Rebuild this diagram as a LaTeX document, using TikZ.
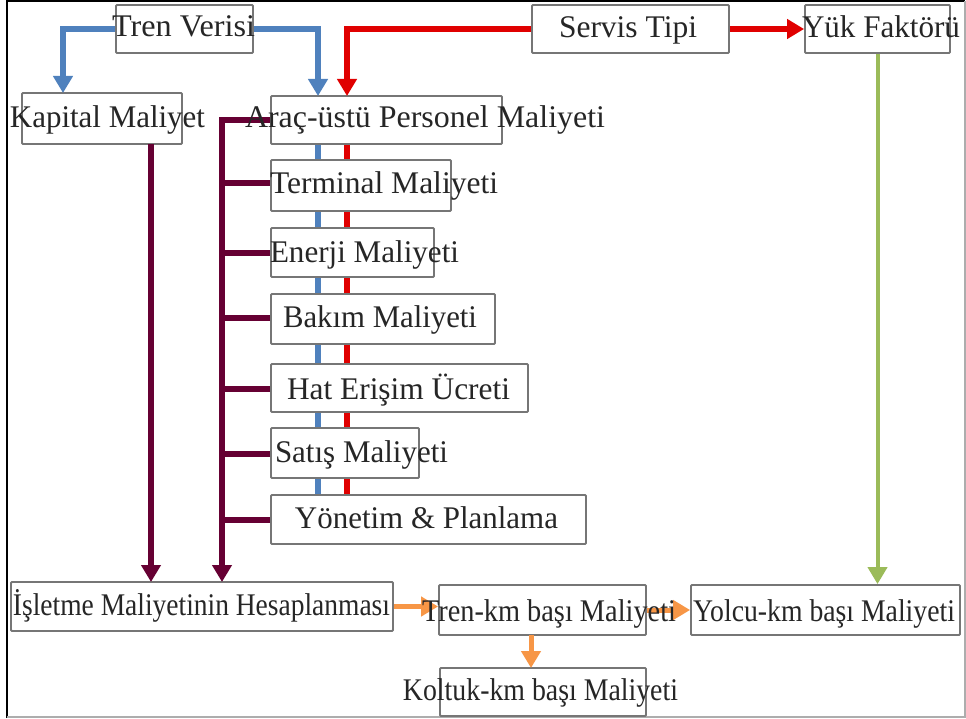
\documentclass[tikz,border=0pt]{standalone}
\usepackage{graphicx}
\usepackage{fontspec}
\setmainfont{Liberation Serif}
\usetikzlibrary{arrows.meta}
\definecolor{cblue}{HTML}{4F81BD}
\definecolor{cred}{HTML}{E00000}
\definecolor{cmaroon}{HTML}{660033}
\definecolor{cgreen}{HTML}{9BBB59}
\definecolor{corange}{HTML}{F79646}
\definecolor{cframe}{HTML}{767676}
\tikzset{
  x=1pt, y=1pt,
  box/.style={draw=cframe, line width=1.8pt, fill=white, inner sep=0pt, rounded corners=1pt},
  label/.style={font=\fontsize{31.5}{34}\selectfont, inner sep=0pt, anchor=base, text=black!85},
  tip/.style={-{Triangle[length=17pt,width=19pt]}},
  wire/.style={line width=5.5pt},
  bluewire/.style={wire, draw=cblue},
  redwire/.style={wire, draw=cred},
  maroonwire/.style={wire, draw=cmaroon},
  greenwire/.style={line width=4pt, draw=cgreen},
  orangewire/.style={line width=5pt, draw=corange},
}
% box from (left, top) to (right, bottom), y measured downward
\newcommand{\boxat}[5]{\node[box, minimum width=#4-#2, minimum height=#5-#3] (#1) at ({(#2+#4)/2},{-(#3+#5)/2}) {};}
% label: name, centre x, baseline y (downward), text width, text
\newcommand{\lbl}[5]{\node[label] (#1) at (#2,-#3) {\resizebox{#4pt}{\height}{#5}};}
\begin{document}
\begin{tikzpicture}
% page frame
\fill[white] (0,0) rectangle (966,-719);
\useasboundingbox (0,0) rectangle (966,-719);
\draw[black, line width=2pt] (7,-718) -- (7,-0.8) -- (965,-0.8);
\draw[cframe!60, line width=2pt] (7,-717) -- (965,-717) -- (965,-1);

% coordinates for connector ends
\coordinate (kapin)  at (63,-93);
\coordinate (arblue) at (318,-96);
\coordinate (arred)  at (347,-96);
\coordinate (blueb)  at (318,-144);
\coordinate (redb)   at (347,-144);
\coordinate (bluee)  at (318,-495);
\coordinate (rede)   at (347,-495);
\coordinate (kapout) at (151,-144);
\coordinate (kapend) at (151,-582);
\coordinate (busend) at (222,-582);
\coordinate (kolout) at (531,-635);
\coordinate (kolin)  at (531,-668);

% connectors running behind the cost boxes
\draw[bluewire] (blueb) -- (bluee);
\draw[redwire] (redb) -- (rede);

\boxat{tv}{116}{5}{253}{53}
\boxat{kap}{22}{93}{182}{144}
\boxat{arac}{271}{96}{502}{144}
\boxat{st}{532}{5}{729}{53}
\boxat{yf}{805}{5}{950}{53}
\boxat{ter}{271}{160}{451}{211}
\boxat{enr}{271}{228}{434}{277}
\boxat{bak}{271}{294}{495}{344}
\boxat{hat}{271}{364}{528}{412}
\boxat{sat}{271}{428}{419}{478}
\boxat{yon}{271}{495}{586}{544}
\boxat{isl}{11}{582}{393}{631}
\boxat{trk}{439}{585}{646}{635}
\boxat{yol}{691}{585}{960}{635}
\boxat{kol}{440}{668}{646}{716}

\draw[bluewire, tip] (tv.west) -| (kapin);
\draw[bluewire, tip] (tv.east) -| (arblue);
\draw[redwire, tip] (st.west) -| (arred);
\draw[redwire, tip] (st.east) -- (yf.west);
\draw[greenwire, tip] (yf.south) -- (yf.south |- yol.north);

\draw[maroonwire, tip] (kapout) -- (kapend);
\draw[maroonwire, tip] (arac.west) -| (busend);
\foreach \b/\y in {ter/183, enr/253, bak/318, hat/389, sat/454, yon/520}
  \draw[maroonwire] (\b.west |- 0,-\y) -- (222,-\y);

\draw[orangewire, tip] (isl.east) -- (isl.east -| trk.west);
\draw[orangewire, tip] (trk.east) -- (trk.east -| yol.west);
\draw[orangewire, tip] (kolout) -- (kolin);

% labels
\lbl{ltv}{183.5}{37}{143}{Tren Verisi}
\lbl{lkap}{107.5}{128}{195}{Kapital Maliyet}
\lbl{lar}{425}{128}{360}{Araç-üstü Personel Maliyeti}
\lbl{lst}{628}{38}{138}{Servis Tipi}
\lbl{lyf}{881}{38}{158}{Yük Faktörü}
\lbl{lter}{384}{194}{228}{Terminal Maliyeti}
\lbl{lenr}{364.5}{263}{189}{Enerji Maliyeti}
\lbl{lbak}{380}{327}{194}{Bakım Maliyeti}
\lbl{lhat}{398.5}{399}{223}{Hat Erişim Ücreti}
\lbl{lsat}{361.5}{462}{173}{Satış Maliyeti}
\lbl{lyon}{426.5}{528}{263}{Yönetim \& Planlama}
\lbl{lisl}{201.5}{615}{377}{İşletme Maliyetinin Hesaplanması}
\lbl{ltrk}{549}{621}{254}{Tren-km başı Maliyeti}
\lbl{lyol}{824}{621}{262}{Yolcu-km başı Maliyeti}
\lbl{lkol}{540.5}{700}{275}{Koltuk-km başı Maliyeti}
\end{tikzpicture}
\end{document}
